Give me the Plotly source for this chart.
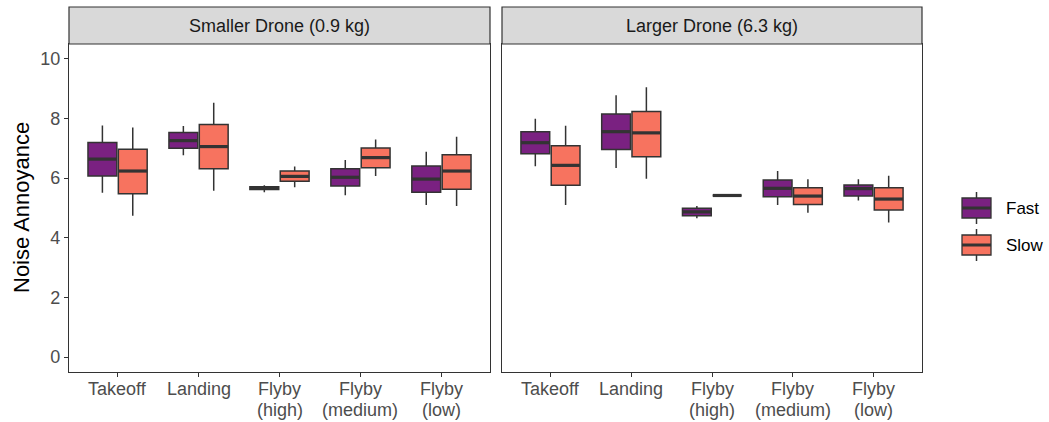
import plotly.graph_objects as go

# Manoeuvre categories on the x axis
manoeuvres = ["Takeoff", "Landing", "Flyby<br>(high)", "Flyby<br>(medium)", "Flyby<br>(low)"]
panels = ["Smaller Drone (0.9 kg)", "Larger Drone (6.3 kg)"]
speeds = ["Fast", "Slow"]

# Box statistics per manoeuvre: lower whisker, Q1, median, Q3, upper whisker
small_fast_low = [5.51, 6.77, 5.53, 5.43, 5.10]
small_fast_q1 = [6.07, 7.00, 5.62, 5.74, 5.53]
small_fast_med = [6.64, 7.26, 5.66, 6.03, 5.97]
small_fast_q3 = [7.20, 7.53, 5.71, 6.32, 6.41]
small_fast_high = [7.77, 7.75, 5.76, 6.61, 6.89]

small_slow_low = [4.74, 5.58, 5.70, 6.07, 5.07]
small_slow_q1 = [5.48, 6.32, 5.90, 6.35, 5.63]
small_slow_med = [6.24, 7.06, 6.06, 6.69, 6.24]
small_slow_q3 = [6.97, 7.80, 6.24, 7.01, 6.79]
small_slow_high = [7.70, 8.53, 6.39, 7.30, 7.39]

large_fast_low = [6.40, 6.34, 4.66, 5.10, 5.25]
large_fast_q1 = [6.82, 6.96, 4.74, 5.38, 5.40]
large_fast_med = [7.19, 7.56, 4.87, 5.66, 5.65]
large_fast_q3 = [7.56, 8.15, 4.99, 5.94, 5.77]
large_fast_high = [7.99, 8.78, 5.07, 6.24, 5.96]

large_slow_low = [5.10, 5.98, 5.42, 4.84, 4.51]
large_slow_q1 = [5.76, 6.72, 5.42, 5.12, 4.93]
large_slow_med = [6.43, 7.52, 5.42, 5.40, 5.30]
large_slow_q3 = [7.09, 8.24, 5.42, 5.68, 5.68]
large_slow_high = [7.76, 9.05, 5.42, 5.96, 6.08]

y_ticks = [0, 2, 4, 6, 8, 10]

colors = {"Fast": "#7A2181", "Slow": "#F7735F"}
outline = "#333333"
font_family = "Liberation Sans, Arial, sans-serif"
box_w = 0.375
offsets = {"Fast": -box_w / 2, "Slow": box_w / 2}

stats = {
    (0, "Fast"): (small_fast_low, small_fast_q1, small_fast_med, small_fast_q3, small_fast_high),
    (0, "Slow"): (small_slow_low, small_slow_q1, small_slow_med, small_slow_q3, small_slow_high),
    (1, "Fast"): (large_fast_low, large_fast_q1, large_fast_med, large_fast_q3, large_fast_high),
    (1, "Slow"): (large_slow_low, large_slow_q1, large_slow_med, large_slow_q3, large_slow_high),
}

W, H = 1049, 422


def px(x):
    return x / W


def py(y):
    return 1 - y / H


fig = go.Figure()
positions = list(range(1, len(manoeuvres) + 1))

for p in range(2):
    xa = "x" if p == 0 else "x2"
    ya = "y" if p == 0 else "y2"
    for s in speeds:
        lo, q1, med, q3, hi = stats[(p, s)]
        xs = [x + offsets[s] for x in positions]
        fig.add_trace(go.Box(
            x=xs, lowerfence=lo, q1=q1, median=med, q3=q3, upperfence=hi,
            width=box_w * 0.95, whiskerwidth=0,
            fillcolor=colors[s], line=dict(color=outline, width=1.5),
            name=s, showlegend=False,
            xaxis=xa, yaxis=ya, hoverinfo="skip",
        ))
        # thicker median bars
        mx, my = [], []
        for x, m in zip(xs, med):
            mx += [x - box_w * 0.475, x + box_w * 0.475, None]
            my += [m, m, None]
        fig.add_trace(go.Scatter(
            x=mx, y=my, mode="lines", line=dict(color=outline, width=3.2),
            showlegend=False, xaxis=xa, yaxis=ya, hoverinfo="skip",
        ))

dom_left = [px(69), px(490)]
dom_right = [px(502), px(922)]
y_dom = [py(372), py(44)]
strip_top = py(7)

tick_font = dict(family=font_family, size=18, color="#4D4D4D")
axis_common = dict(
    range=[0.4, 5.6], tickmode="array", tickvals=positions, showticklabels=False,
    showgrid=False, zeroline=False, showline=True, mirror=True,
    linecolor=outline, linewidth=1.2, ticks="outside", ticklen=4,
    tickcolor=outline, tickwidth=1.2, automargin=False,
)
fig.update_layout(
    xaxis=dict(domain=dom_left, anchor="y", **axis_common),
    xaxis2=dict(domain=dom_right, anchor="y2", **axis_common),
    yaxis=dict(
        domain=y_dom, range=[-0.5, 10.5], tickvals=y_ticks, showgrid=False,
        zeroline=False, showline=True, mirror=True, linecolor=outline, linewidth=1.2,
        ticks="outside", ticklen=4, tickcolor=outline, tickwidth=1.2,
        tickfont=tick_font, automargin=False,
    ),
    yaxis2=dict(
        domain=y_dom, range=[-0.5, 10.5], anchor="x2", showticklabels=False,
        showgrid=False, zeroline=False, showline=True, mirror=True,
        linecolor=outline, linewidth=1.2, ticks="", automargin=False,
    ),
    plot_bgcolor="white", paper_bgcolor="white",
    width=W, height=H, margin=dict(l=0, r=0, t=0, b=0),
    showlegend=False,
)

# x tick labels, one text per line so the line spacing stays compact
line_y = [py(389), py(410)]
for xref in ["x", "x2"]:
    for pos, label in zip(positions, manoeuvres):
        for k, part in enumerate(label.split("<br>")):
            fig.add_annotation(xref=xref, yref="paper", x=pos, y=line_y[k],
                               text=part, showarrow=False,
                               xanchor="center", yanchor="middle", font=tick_font)

# y axis title
fig.add_annotation(xref="paper", yref="paper", x=px(21), y=(y_dom[0] + y_dom[1]) / 2,
                   text="Noise Annoyance", textangle=-90, showarrow=False,
                   xanchor="center", yanchor="middle",
                   font=dict(family=font_family, size=22, color="#000000"))

# facet strips
for dom, label in zip([dom_left, dom_right], panels):
    fig.add_shape(type="rect", xref="paper", yref="paper",
                  x0=dom[0], x1=dom[1], y0=y_dom[1], y1=strip_top,
                  fillcolor="#D9D9D9", line=dict(color=outline, width=1.2))
    fig.add_annotation(xref="paper", yref="paper", x=(dom[0] + dom[1]) / 2,
                       y=(y_dom[1] + strip_top) / 2, text=label, showarrow=False,
                       xanchor="center", yanchor="middle",
                       font=dict(family=font_family, size=18, color="#1A1A1A"))

# legend keys drawn as miniature boxplots
key_x0, key_x1 = 962, 991
key_rows = {"Fast": 208, "Slow": 245}
for s, yc in key_rows.items():
    xm = (key_x0 + key_x1) / 2
    fig.add_shape(type="line", xref="paper", yref="paper",
                  x0=px(xm), x1=px(xm), y0=py(yc - 16), y1=py(yc + 16),
                  line=dict(color=outline, width=1.5))
    fig.add_shape(type="rect", xref="paper", yref="paper",
                  x0=px(key_x0), x1=px(key_x1), y0=py(yc - 10), y1=py(yc + 10),
                  fillcolor=colors[s], line=dict(color=outline, width=1.3))
    fig.add_shape(type="line", xref="paper", yref="paper",
                  x0=px(key_x0), x1=px(key_x1), y0=py(yc), y1=py(yc),
                  line=dict(color=outline, width=3))
    fig.add_annotation(xref="paper", yref="paper", x=px(1004), y=py(yc),
                       text=s, showarrow=False, xanchor="left", yanchor="middle",
                       font=dict(family=font_family, size=17, color="#000000"))

fig.write_html("out.html")
